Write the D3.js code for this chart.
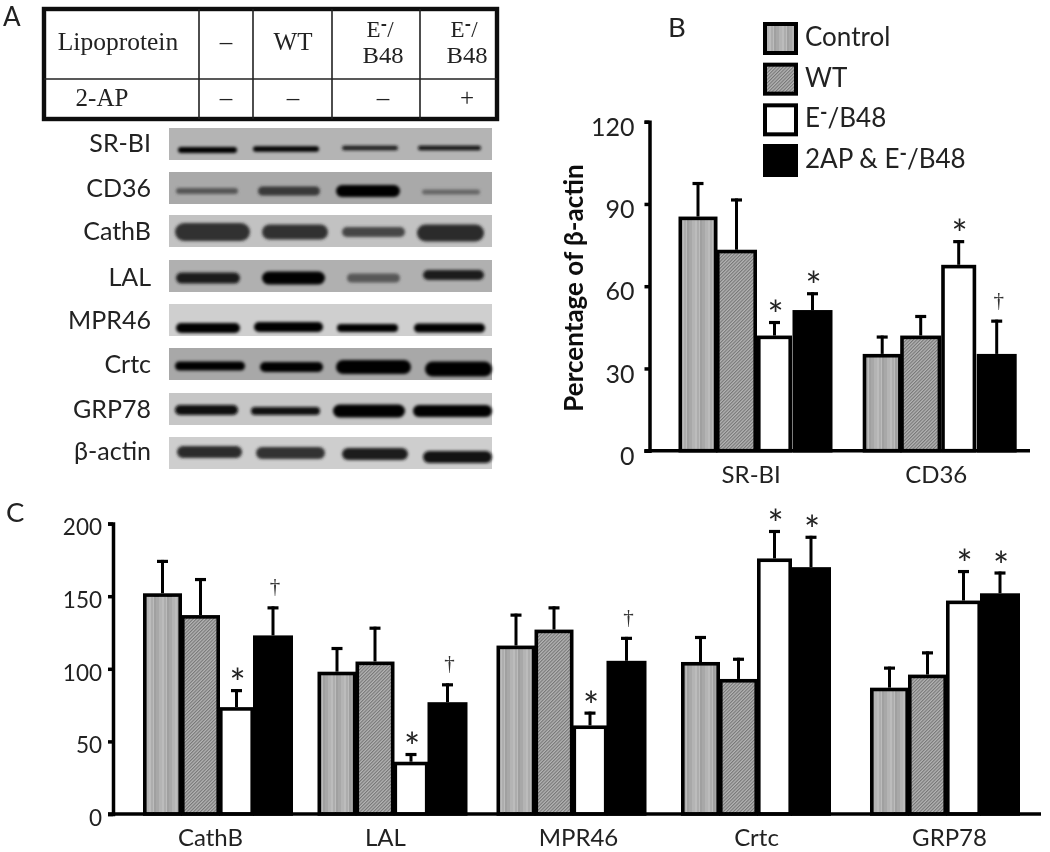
<!DOCTYPE html>
<html><head><meta charset="utf-8">
<script src="https://cdnjs.cloudflare.com/ajax/libs/d3/7.8.5/d3.min.js"></script>
<style>html,body{margin:0;background:#fff}svg{display:block}</style></head>
<body><div id="c"></div>
<script>
const seriesNames=["Control","WT","E-/B48","2AP & E-/B48"];
// Panel B
const catsB=["SR-BI","CD36"];
const meanB=[[85.4,73.3,42,51.3],[35.3,42,67.8,35.3]];
const upperB=[[98,92,47.3,57.8],[42,49.5,76.8,47.8]];
const markB=[["","","*","*"],["","","*","†"]];
const ticksB=[0,30,60,90,120];
// Panel C
const catsC=["CathB","LAL","MPR46","Crtc","GRP78"];
const meanC=[[152,137,73.6,123],[98,105,36,77],[116,127,61,105.5],[104.7,93,176,170],[87,96,147,152]];
const upperC=[[175,162.5,86,143],[115,129,42,90],[138,143,70.5,122],[122.6,107.6,195.6,191.6],[101.5,112,168,167]];
const markC=[["","","*","†"],["","","*","†"],["","","*","†"],["","","*","*"],["","","*","*"]];
const ticksC=[0,50,100,150,200];
// Panel A blots
const blotNames=["SR-BI","CD36","CathB","LAL","MPR46","Crtc","GRP78","β-actin"];
const blotBg=["#b4b4b4","#a9a9a9","#c2c2c2","#b0b0b0","#cfcfcf","#a8a8a8","#c6c6c6","#cecece"];
const blotDensity=[[1,.97,.88,.92],[.55,.72,1,.45],[.76,.76,.66,.8],[.88,.97,.55,.85],[1,1,1,1],[1,1,1,1],[.95,.92,.98,.98],[.8,.75,.88,.9]];
const tableRow1=["Lipoprotein","–","WT","E-/B48","E-/B48"];
const tableRow2=["2-AP","–","–","–","+"];

const W=1050,H=852,sans="Lato, 'Open Sans', sans-serif",serif="'Liberation Serif', serif";
const svg=d3.select("#c").append("svg").attr("width",W).attr("height",H).attr("viewBox",[0,0,W,H]);
const defs=svg.append("defs");
const p1=defs.append("pattern").attr("id","stripe").attr("patternUnits","userSpaceOnUse").attr("width",13).attr("height",13);
[["#a8a8a8",0,3],["#b4b4b4",3,3],["#bcbcbc",6,2],["#adadad",8,2.5],["#a0a0a0",10.5,2.5]].forEach(s=>p1.append("rect").attr("x",s[1]).attr("width",s[2]).attr("height",13).attr("fill",s[0]));
const p2=defs.append("pattern").attr("id","hatch").attr("patternUnits","userSpaceOnUse").attr("width",2.4).attr("height",2.4).attr("patternTransform","rotate(-45)");
p2.append("rect").attr("width",2.4).attr("height",2.4).attr("fill","#b4b4b4");
p2.append("rect").attr("width",2.4).attr("height",1.1).attr("fill","#767676");
defs.append("filter").attr("id","soft").attr("x","-20%").attr("y","-80%").attr("width","140%").attr("height","260%").append("feGaussianBlur").attr("stdDeviation",1.6);
defs.append("filter").attr("id","soft2").attr("x","-5%").attr("y","-5%").attr("width","110%").attr("height","110%").append("feGaussianBlur").attr("stdDeviation",0.45);
const fills=["url(#stripe)","url(#hatch)","#fff","#000"];

function panel(o){
  const g=svg.append("g").attr("filter","url(#soft2)");
  const y=d3.scaleLinear().domain(o.domain).range(o.yRange);
  const cx=d3.scaleOrdinal(o.cats,o.centers);
  const left=d3.scaleOrdinal(seriesNames,o.lefts);
  const wid=d3.scaleOrdinal(seriesNames,o.widths);
  const rows=o.cats.flatMap((c,i)=>seriesNames.map((s,j)=>({c,s,j,v:o.mean[i][j],u:o.upper[i][j],m:o.mark[i][j]})));
  const sw=3.6;
  const mid=d=>cx(d.c)+left(d.s)+wid(d.s)/2;
  g.selectAll("line.err").data(rows).join("line").attr("x1",mid).attr("x2",mid)
    .attr("y1",d=>y(d.v)).attr("y2",d=>y(d.u)).attr("stroke","#000").attr("stroke-width",3);
  g.selectAll("line.cap").data(rows).join("line").attr("x1",d=>mid(d)-5.5).attr("x2",d=>mid(d)+5.5)
    .attr("y1",d=>y(d.u)+1.5).attr("y2",d=>y(d.u)+1.5).attr("stroke","#000").attr("stroke-width",3.2);
  g.selectAll("rect.bar").data(rows).join("rect").attr("x",d=>cx(d.c)+left(d.s)+sw/2).attr("width",d=>wid(d.s)-sw)
    .attr("y",d=>y(d.v)+sw/2).attr("height",d=>y(0)-y(d.v)-sw/2).attr("fill",d=>fills[d.j]).attr("stroke","#000").attr("stroke-width",sw);
  g.selectAll("text.mk").data(rows.filter(d=>d.m)).join("text").attr("text-anchor","middle")
    .attr("x",d=>mid(d)+(d.m=="*"?1:2))
    .attr("y",d=>y(d.u)+(d.m=="*"?8:-13))
    .attr("font-family",d=>d.m=="*"?sans:serif).attr("font-size",d=>d.m=="*"?38:21).attr("fill",d=>d.m=="*"?"#222":"#333").text(d=>d.m);
  const ax=g.append("g").attr("transform",`translate(${o.axisX},0)`).call(d3.axisLeft(y).tickValues(o.ticks).tickSize(5).tickPadding(o.pad).tickFormat(d3.format("d")));
  ax.selectAll("path,line").attr("stroke","#000").attr("stroke-width",3.5);
  ax.selectAll("text").attr("font-family",sans).attr("font-size",o.tickFont).attr("fill","#222").attr("dy",o.tickDy);
  const lab=d3.scaleOrdinal(o.cats,o.labelX);
  const bx=g.append("g").attr("transform",`translate(0,${y(0)})`).call(d3.axisBottom(lab).tickSize(0).tickPadding(o.labPad));
  bx.select("path").remove();
  bx.selectAll("text").attr("font-family",sans).attr("font-size",o.labFont).attr("fill","#222");
  g.append("line").attr("x1",o.axisX-5).attr("x2",o.xEnd).attr("y1",y(0)).attr("y2",y(0)).attr("stroke","#000").attr("stroke-width",3.5);
  return g;
}
const gB=panel({cats:catsB,mean:meanB,upper:upperB,mark:markB,ticks:ticksB,domain:[0,120],yRange:[450.7,121.7],
  centers:[755.5,939.7],lefts:[-77,-39.5,1.5,37],widths:[39,41,35,40],axisX:649.5,xEnd:1030,pad:10,tickFont:25,tickDy:"0.55em",labelX:[750.7,935.7],labPad:15,labFont:24});
const gC=panel({cats:catsC,mean:meanC,upper:upperC,mark:markC,ticks:ticksC,domain:[0,200],yRange:[814,523.6],
  centers:[218,392.5,571.5,756,945],lefts:[-75,-37,1,35],widths:[39,39,35,40],axisX:113,xEnd:1041,pad:6,tickFont:22.5,tickDy:"0.5em",labelX:[210,385,578,756,949],labPad:15,labFont:24});
gB.append("text").attr("transform","translate(583,288) rotate(-90)").attr("text-anchor","middle").attr("font-family",sans).attr("font-weight",700).attr("font-size",26).attr("fill","#111").text("Percentage of β-actin");

// Legend
const lg=svg.append("g").attr("filter","url(#soft2)");
const ly=d3.scalePoint(seriesNames,[22,144]);
const legendRows=lg.selectAll("g").data(seriesNames).join("g").attr("transform",d=>`translate(763,${ly(d)})`);
legendRows.append("rect").attr("x",2).attr("y",2).attr("width",31).attr("height",29).attr("fill",(d,i)=>fills[i]).attr("stroke","#000").attr("stroke-width",4);
legendRows.each(function(d){
  const t=d3.select(this).append("text").attr("x",42).attr("y",24).attr("font-family",sans).attr("font-size",26).attr("fill","#222");
  if(d.includes("E-")){const [a,b]=d.split("E-");
    t.append("tspan").text(a+"E");t.append("tspan").attr("dy",-8).attr("font-size",20).attr("font-weight",700).text("-");t.append("tspan").attr("dy",8).text(b);
  } else t.text(d);
});

// Panel letters
[["A",3,25.5,26],["B",668,37,27.5],["C",6,522,27.5]].forEach(d=>svg.append("text").attr("x",d[1]).attr("y",d[2]).attr("font-family",sans).attr("font-size",d[3]).attr("fill","#222").text(d[0]));

// Table
const tb=svg.append("g").attr("filter","url(#soft2)").attr("fill","#222").attr("font-family",serif);
tb.append("rect").attr("x",44).attr("y",9).attr("width",453).attr("height",110).attr("fill","none").attr("stroke","#111").attr("stroke-width",4.4);
tb.append("line").attr("x1",44).attr("x2",497).attr("y1",79).attr("y2",79).attr("stroke","#222").attr("stroke-width",1.6);
const colEdges=[199,253,332,420];
tb.selectAll("line.v").data(colEdges).join("line").attr("x1",d=>d).attr("x2",d=>d).attr("y1",9).attr("y2",119).attr("stroke","#222").attr("stroke-width",1.6);
const colX=d3.scaleOrdinal([0,1,2,3,4],[118,226,293,383,467]);
tableRow1.forEach((t,i)=>{
  if(t.startsWith("E-")){
    const a=tb.append("text").attr("x",colX(i)-3).attr("y",37).attr("text-anchor","middle").attr("font-size",23);
    a.append("tspan").text("E");a.append("tspan").attr("dy",-6).attr("font-weight",700).attr("font-family",sans).attr("font-size",18).text("-");a.append("tspan").attr("dy",6).text("/");
    tb.append("text").attr("x",colX(i)).attr("y",63).attr("text-anchor","middle").attr("font-size",23).attr("textLength",41).attr("lengthAdjust","spacingAndGlyphs").text("B48");
  } else tb.append("text").attr("x",colX(i)).attr("y",50).attr("text-anchor","middle").attr("font-size",i==0?25.5:25).text(t);
});
tableRow2.forEach((t,i)=>tb.append("text").attr("x",i==0?102:colX(i)).attr("y",106).attr("text-anchor","middle").attr("font-size",25).text(t));

// Blots
const blotY=d3.scaleOrdinal(blotNames,[128,172,215,260,304,348,393,437]);
const laneStart=[[178,253,342,418],[176,258,336,422],[175,262,342,417],[176,262,347,423],[176,254,337,414],[175,260,336,425],[175,251,333,413],[177,256,342,423]];
const laneEnd=[[237,319,398,481],[238,320,400,480],[250,328,405,484],[240,325,400,484],[240,323,398,485],[245,323,411,492],[238,320,405,492],[242,325,408,492]];
const laneThick=[[6,5.5,4.5,4.5],[6,9,12,5],[18,15,10,17],[11,13,9,10],[10,10,8,9],[9,10,14,15],[10,8,13,12],[12,12,12,12]];
const laneMid=[[22,21,20,20],[19,19,19,20],[17,17,17,18],[18,18,18,15],[24,23,24,24],[18,19,19,21],[17,18,18,18],[15,16,17,20]];
const labs=svg.append("g").attr("filter","url(#soft2)");
blotNames.forEach((n,i)=>{
  const y0=blotY(n);
  svg.append("rect").attr("x",169).attr("y",y0).attr("width",323).attr("height",32).attr("fill",blotBg[i]);
  const bands=blotDensity[i].map((d,j)=>({d,a:laneStart[i][j],b:laneEnd[i][j],t:laneThick[i][j],m:laneMid[i][j]}));
  const gg=svg.append("g").attr("filter","url(#soft)");
  gg.selectAll("rect").data(bands).join("rect").attr("x",d=>d.a).attr("width",d=>d.b-d.a).attr("y",d=>y0+d.m-d.t/2).attr("height",d=>d.t).attr("rx",d=>d.t/2).attr("ry",d=>d.t/2)
    .attr("fill",d=>d3.interpolateRgb("#a8a8a8","#000")(d.d)).attr("opacity",d=>0.75+0.25*d.d);
  labs.append("text").attr("x",151).attr("y",y0+25-(i==0?1:0)-(i==3?-1:0)-(i==7?2:0)).attr("text-anchor","end").attr("font-family",sans).attr("font-size",25).attr("fill","#222").text(n);
});
</script></body></html>
